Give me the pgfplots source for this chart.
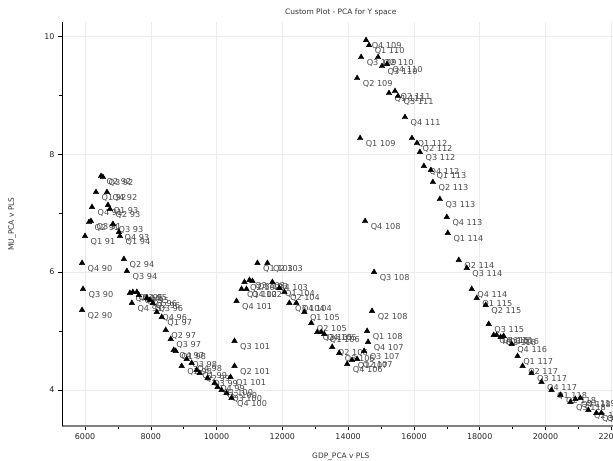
\documentclass[border=0pt]{standalone}
\usepackage{pgfplots}
\pgfplotsset{compat=1.18}
\usepackage{fontspec}
\setmainfont{DejaVu Sans}
\definecolor{lblgray}{RGB}{75,75,75}
\definecolor{gridgray}{RGB}{236,236,236}
\begin{document}
\begin{tikzpicture}
\useasboundingbox (0,0) rectangle (613bp,461bp);
\begin{axis}[
  at={(62bp,35bp)}, anchor=south west,
  scale only axis, width=569bp, height=404bp,
  xmin=5300, xmax=22600, ymin=3.39, ymax=10.24,
  axis x line*=bottom, axis y line*=left,
  x axis line style={line width=1.3pt, color=gray},
  y axis line style={line width=0.8pt, color=black},
  xtick={6000,8000,...,22000}, ytick={4,6,8,10},
  minor x tick num=1, minor y tick num=1,
  tick align=outside, major tick length=4bp, minor tick length=3bp,
  tick style={color=black, line width=0.5pt},
  grid=major, major grid style={gridgray, line width=0.6pt},
  scaled x ticks=false, scaled y ticks=false,
  /pgf/number format/assume math mode=true,
  /pgf/number format/set thousands separator={},
  ticklabel style={font=\fontsize{8}{9}\selectfont, color=black!85},
  title={Custom Plot - PCA for Y space},
  title style={at={(axis description cs:0.49,1.008)}, anchor=center, font=\fontsize{7.5}{9}\selectfont, color=black!80},
  xlabel={GDP\_PCA v PLS},
  xlabel style={at={(axis description cs:0.49,-0.076)}, anchor=center, font=\fontsize{7.5}{9}\selectfont, color=black!80},
  ylabel={MU\_PCA v PLS},
  ylabel style={at={(axis description cs:-0.088,0.5)}, anchor=center, font=\fontsize{7.5}{9}\selectfont, color=black!80},
  clip=false,
]
\addplot[only marks, mark=triangle*, mark size=3.2pt, color=black,
  nodes near coords, point meta=explicit symbolic,
  nodes near coords style={anchor=north west, inner sep=0pt, xshift=5.5bp, yshift=-2.5bp,
    font=\fontsize{8.2}{9}\selectfont, text=lblgray}]
table[col sep=comma, row sep=\\, x=x, y=y, meta=label] {
label,x,y\\
Q2 90,5909,5.356\\
Q3 90,5939,5.712\\
Q4 90,5909,6.153\\
Q1 91,6000,6.610\\
Q2 91,6121,6.847\\
Q3 91,6182,6.864\\
Q4 91,6212,7.102\\
Q1 92,6333,7.356\\
Q2 92,6485,7.627\\
Q3 92,6545,7.610\\
Q4 92,6667,7.356\\
Q1 93,6697,7.136\\
Q2 93,6758,7.068\\
Q3 93,6848,6.814\\
Q4 93,7030,6.678\\
Q1 94,7061,6.610\\
Q2 94,7182,6.220\\
Q3 94,7273,6.017\\
Q4 94,7364,5.644\\
Q1 95,7454,5.661\\
Q2 95,7576,5.661\\
Q3 95,7636,5.610\\
Q4 95,7424,5.475\\
Q1 96,7879,5.559\\
Q2 96,7970,5.525\\
Q3 96,8061,5.475\\
Q4 96,8182,5.322\\
Q1 97,8333,5.237\\
Q2 97,8454,5.017\\
Q3 97,8606,4.864\\
Q4 97,8697,4.678\\
Q1 98,8758,4.661\\
Q2 98,8939,4.407\\
Q3 98,9091,4.525\\
Q4 98,9242,4.458\\
Q1 99,9394,4.339\\
Q2 99,9485,4.288\\
Q3 99,9727,4.203\\
Q4 99,9939,4.119\\
Q1 100,10030,4.051\\
Q2 100,10151,4.000\\
Q3 100,10303,3.949\\
Q4 100,10455,3.864\\
Q1 101,10424,4.220\\
Q2 101,10545,4.407\\
Q3 101,10545,4.831\\
Q4 101,10606,5.508\\
Q1 102,10758,5.712\\
Q2 102,10848,5.831\\
Q3 102,11000,5.864\\
Q4 102,10909,5.712\\
Q1 103,11242,6.153\\
Q2 103,11545,6.153\\
Q3 103,11091,5.847\\
Q4 103,11697,5.831\\
Q1 104,11909,5.729\\
Q2 104,12061,5.661\\
Q3 104,12212,5.475\\
Q4 104,12424,5.475\\
Q1 105,12667,5.322\\
Q2 105,12879,5.136\\
Q3 105,13061,4.983\\
Q4 105,13182,4.983\\
Q1 106,13273,4.949\\
Q2 106,13515,4.729\\
Q3 106,13727,4.627\\
Q4 106,13970,4.441\\
Q1 107,14121,4.508\\
Q2 107,14273,4.525\\
Q3 107,14485,4.661\\
Q4 107,14606,4.814\\
Q1 108,14576,5.000\\
Q2 108,14727,5.339\\
Q3 108,14788,6.000\\
Q4 108,14515,6.864\\
Q1 109,14364,8.271\\
Q2 109,14273,9.288\\
Q3 109,14394,9.644\\
Q4 109,14545,9.932\\
Q1 110,14636,9.847\\
Q2 110,14909,9.644\\
Q3 110,15030,9.492\\
Q4 110,15182,9.525\\
Q1 111,15242,9.034\\
Q2 111,15424,9.068\\
Q3 111,15515,8.983\\
Q4 111,15727,8.627\\
Q1 112,15939,8.271\\
Q2 112,16091,8.186\\
Q3 112,16182,8.034\\
Q4 112,16303,7.797\\
Q1 113,16515,7.729\\
Q2 113,16576,7.525\\
Q3 113,16788,7.237\\
Q4 113,17000,6.932\\
Q1 114,17030,6.661\\
Q2 114,17364,6.203\\
Q3 114,17606,6.068\\
Q4 114,17758,5.712\\
Q1 115,17909,5.559\\
Q2 115,18182,5.441\\
Q3 115,18273,5.119\\
Q4 115,18424,4.932\\
Q1 116,18515,4.932\\
Q2 116,18636,4.898\\
Q3 116,18727,4.915\\
Q4 116,18970,4.780\\
Q1 117,19152,4.576\\
Q2 117,19303,4.407\\
Q3 117,19576,4.288\\
Q4 117,19879,4.136\\
Q1 118,20182,4.000\\
Q2 118,20455,3.915\\
Q3 118,20758,3.797\\
Q4 118,20909,3.847\\
Q1 119,21061,3.864\\
Q2 119,21303,3.661\\
Q3 119,21545,3.610\\
Q4 119,21697,3.610\\
};
\end{axis}
\end{tikzpicture}
\end{document}
